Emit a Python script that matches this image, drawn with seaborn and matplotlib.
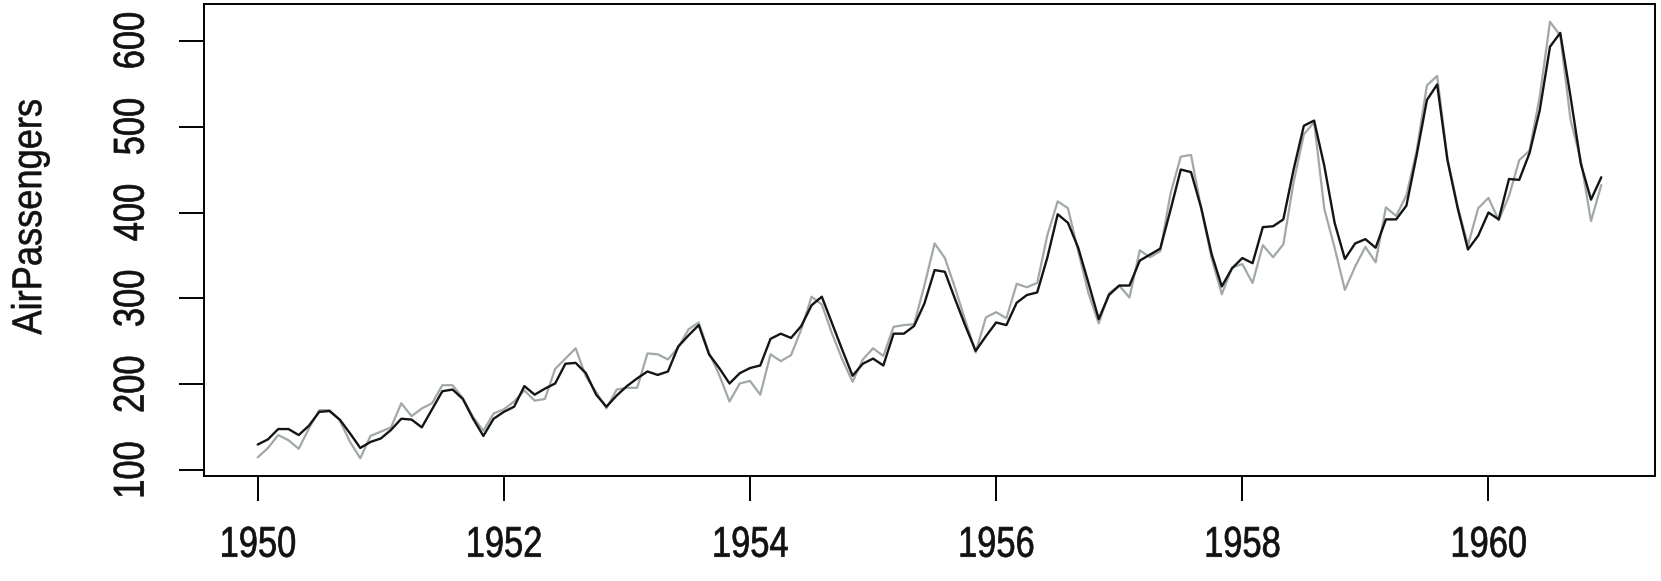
import numpy as np
import pandas as pd
import matplotlib
matplotlib.use("Agg")
import matplotlib.pyplot as plt
import matplotlib.patheffects as pe
from matplotlib.transforms import Affine2D
import seaborn as sns

# monthly AirPassengers, 1950-1960 (observed)
observed = [
    115, 126, 141, 135, 125, 149, 170, 170, 158, 133, 114, 140,
    145, 150, 178, 163, 172, 178, 199, 199, 184, 162, 146, 166,
    171, 180, 193, 181, 183, 218, 230, 242, 209, 191, 172, 194,
    196, 196, 236, 235, 229, 243, 264, 272, 237, 211, 180, 201,
    204, 188, 235, 227, 234, 264, 302, 293, 259, 229, 203, 229,
    242, 233, 267, 269, 270, 315, 364, 347, 312, 274, 237, 278,
    284, 277, 317, 313, 318, 374, 413, 405, 355, 306, 271, 306,
    315, 301, 356, 348, 355, 422, 465, 467, 404, 347, 305, 336,
    340, 318, 362, 348, 363, 435, 491, 505, 404, 359, 310, 337,
    360, 342, 406, 396, 420, 472, 548, 559, 463, 407, 362, 405,
    417, 391, 419, 461, 472, 535, 622, 606, 508, 461, 390, 432,
]

# fitted values (black line)
fitted = [
    130, 136, 148, 148, 141, 152, 168, 169, 159, 143, 126, 133,
    137, 147, 160, 159, 150, 171, 192, 194, 183, 160, 140, 160,
    168, 174, 198, 188, 195, 201, 224, 225, 213, 188, 174, 187,
    198, 207, 215, 211, 215, 244, 257, 269, 235, 219, 201, 213,
    219, 222, 253, 259, 254, 268, 292, 302, 271, 240, 210, 224,
    230, 222, 259, 259, 268, 294, 333, 331, 299, 268, 239, 256,
    272, 269, 295, 304, 307, 348, 398, 388, 359, 318, 276, 304,
    315, 315, 344, 351, 358, 403, 450, 447, 405, 352, 314, 335,
    347, 341, 383, 384, 392, 450, 501, 507, 454, 388, 346, 364,
    369, 359, 392, 392, 408, 467, 531, 549, 461, 405, 357, 373,
    400, 392, 439, 438, 469, 519, 593, 609, 535, 457, 415, 441,
]

start_year = 1950
x_ticks = [1950, 1952, 1954, 1956, 1958, 1960]
y_ticks = [100, 200, 300, 400, 500, 600]


class Squeeze(pe.AbstractPathEffect):
    """squeeze text along its baseline and thicken it a bit (fake condensed font)"""

    def __init__(self, factor, stroke=0.7):
        super().__init__()
        self.factor = factor
        self.stroke = stroke

    def draw_path(self, renderer, gc, tpath, affine, rgbFace=None):
        ext = tpath.get_extents()
        cx = 0.5 * (ext.x0 + ext.x1)
        t = Affine2D().translate(-cx, 0).scale(self.factor, 1).translate(cx, 0) + affine
        gc0 = renderer.new_gc()
        gc0.copy_properties(gc)
        gc0.set_linewidth(self.stroke)
        gc0.set_foreground(rgbFace)
        gc0.set_joinstyle("round")
        renderer.draw_path(gc0, tpath, t, rgbFace)
        gc0.restore()


time = start_year + np.arange(len(observed)) / 12
df = pd.DataFrame({"time": time, "observed": observed, "fitted": fitted})

sns.set_style("white")
plt.rcParams["font.family"] = ["Liberation Sans", "DejaVu Sans"]

fig = plt.figure(figsize=(16.61, 5.81), dpi=100)
ax = fig.add_axes([0.1228, 0.1812, 0.8736, 0.8114])

sns.lineplot(data=df, x="time", y="observed", color="#a0a9a7", lw=1.6, ax=ax)
sns.lineplot(data=df, x="time", y="fitted", color="#141414", lw=1.7, ax=ax)

# R-style 4% padding
lo = min(min(observed), min(fitted))
hi = max(max(observed), max(fitted))
pad_y = 0.04 * (hi - lo)
ax.set_ylim(lo - pad_y, hi + pad_y)
span = time[-1] - time[0]
ax.set_xlim(time[0] - 0.04 * span, time[-1] + 0.04 * span)

ax.set_xticks(x_ticks)
ax.set_yticks(y_ticks)
ax.set_yticklabels([str(v) for v in y_ticks], rotation=90, va="center")
ax.tick_params(axis="both", direction="out", length=18, width=1.4,
               bottom=True, left=True, labelsize=31,
               color="black", labelcolor="#111111")
ax.tick_params(axis="x", pad=18)
ax.tick_params(axis="y", pad=19)

for sp in ax.spines.values():
    sp.set_visible(True)
    sp.set_color("black")
    sp.set_linewidth(1.4)

ax.set_xlabel("")
ax.set_ylabel("AirPassengers", fontsize=30, color="#111111")
ax.yaxis.set_label_coords(-0.106, 0.549)
ax.yaxis.label.set_path_effects([Squeeze(0.87, 0.4)])

for lbl in ax.get_xticklabels() + ax.get_yticklabels():
    lbl.set_path_effects([Squeeze(0.8, 0.5)])

fig.savefig("out.png", dpi=100)
